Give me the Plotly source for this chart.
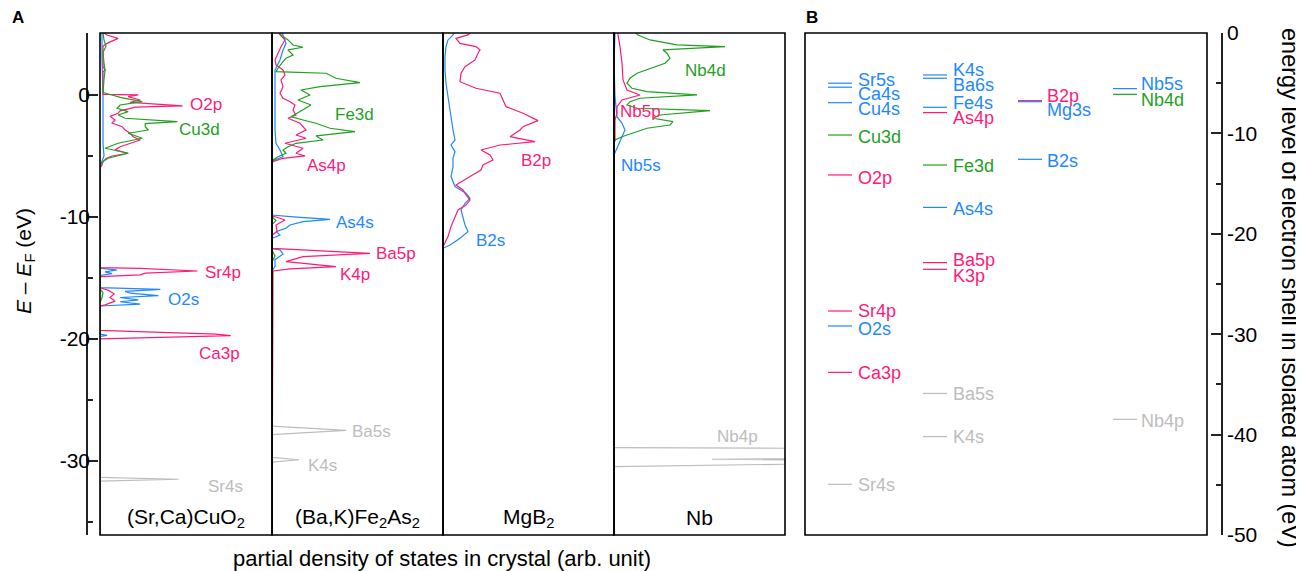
import plotly.graph_objects as go

# ---------------- data ----------------
panel_names = ["(Sr,Ca)CuO<sub>2</sub>", "(Ba,K)Fe<sub>2</sub>As<sub>2</sub>", "MgB<sub>2</sub>", "Nb"]

# Panel A: energy E-E_F (eV) and partial DOS (arb. unit) for each curve
# (Sr,Ca)CuO2
sc_p_E = [5.08, 4.92, 4.64, 4.23, 4.0, 2.3, 2.05, 1.9, 0.05, 0.0,
          -0.14, -0.41, -0.6, -0.9, -1.0, -1.09, -1.3, -1.5, -1.75, -2.05,
          -2.3, -2.6, -2.87, -3.14, -3.42, -3.69, -3.96, -4.24, -4.5, -4.78,
          -5.0, -5.2, -5.46, -5.74, -6.0,
          -14.15, -14.21, -14.43, -14.6, -14.75, -14.89,
          -15.8, -16.0, -16.3, -16.6, -16.9, -17.2, -17.3,
          -19.3, -19.6, -19.73, -19.85, -20.0, -36.1]
sc_p = [4, 7, 18, 7, 3, 3, 5, 3, 3, 38,
        28, 40, 30, 82, 35, 30, 20, 18, 10, 15,
        12, 22, 25, 30, 33, 40, 30, 20, 15, 28,
        12, 6, 3, 2, 0,
        0, 40, 97, 45, 40, 0,
        0, 8, 14, 10, 15, 5, 0,
        0, 115, 130, 60, 0, 0]
sc_d_E = [5.08, 4.5, 4.0, 3.5, 2.6, 2.0, 1.3, 0.2, 0.0, -0.2,
          -0.55, -0.82, -1.09, -1.37, -1.64, -1.91, -2.19, -2.35, -2.6, -2.87,
          -3.14, -3.55, -3.96, -4.37, -4.78, -5.19, -5.46, -5.8,
          -15.9, -16.2, -16.6, -17.0, -36.1]
sc_d = [3, 4, 6, 3, 4, 5, 4, 3, 12, 20,
        42, 20, 17, 28, 18, 25, 77, 45, 45, 48,
        28, 42, 18, 5, 28, 8, 3, 0,
        0, 3, 2, 0, 0]
sc_s_E = [5.08, 3.0, 0.0, -2.0, -4.0, -5.0, -5.8,
          -14.2, -14.35, -14.5, -14.65, -14.8,
          -15.8, -15.93, -16.1, -16.25, -16.45, -16.6, -16.8, -16.95, -17.15, -17.3,
          -19.6, -19.7, -19.8, -36.1]
sc_s = [2, 2, 3, 3, 3, 4, 0,
        0, 17, 5, 12, 0,
        0, 60, 25, 30, 58, 20, 38, 20, 40, 0,
        0, 7, 0, 0]
sc_core_E = [-31.35, -31.5, -31.65]
sc_core = [0, 78, 0]

# (Ba,K)Fe2As2
bk_d_E = [5.08, 4.92, 4.51, 4.10, 3.91, 3.69, 3.28, 3.01, 2.73, 2.46,
          2.19, 1.91, 1.78, 1.37, 1.01, 0.68, 0.41, 0.0, -0.41, -0.82,
          -1.23, -1.78, -2.05, -2.32, -2.73, -3.01, -3.36, -3.69, -3.96, -4.24,
          -4.51, -4.78, -5.06, -5.33, -5.5,
          -10.0, -10.3, -10.6, -12.7, -13.2, -13.7, -36.1]
bk_d = [8, 9, 16, 21, 31, 16, 21, 14, 11, 8,
        6, 4, 54, 64, 88, 48, 29, 38, 26, 39,
        31, 19, 31, 44, 58, 83, 44, 51, 24, 16,
        11, 14, 6, 1, 0,
        0, 4, 0, 0, 3, 0, 0]
bk_p_E = [5.08, 4.92, 4.51, 3.96, 3.42, 2.87, 2.46, 2.05, 1.64, 1.23,
          0.68, 0.14, -0.27, -0.55, -0.82, -1.23, -1.64, -1.91, -2.32, -2.87,
          -3.28, -3.55, -3.96, -4.37, -4.78, -5.0, -5.19, -5.46, -5.6,
          -9.9, -10.0, -10.25, -10.66, -11.2, -11.5,
          -12.57, -12.7, -12.98, -13.25, -13.66, -14.07, -14.26, -14.43, -36.1]
bk_p = [7, 8, 13, 9, 6, 3, 4, 11, 13, 9,
        11, 8, 11, 18, 23, 21, 24, 16, 28, 34,
        24, 34, 13, 31, 24, 33, 11, 1, 0,
        0, 4, 13, 4, 5, 0,
        0, 30, 98, 31, 14, 64, 18, 1, 0]
bk_s_E = [5.08, 4.92, 4.23, 3.69, 2.87, 2.05, -0.14, -2.87, -3.96, -4.51,
          -5.06, -5.4, -9.84, -9.97, -10.19, -10.38, -10.66, -10.93, -11.2, -11.48,
          -11.75, -12.6, -12.7, -13.05, -13.5, -14.07, -14.4, -36.1]
bk_s = [10, 11, 14, 11, 8, 3, 3, 3, 4, 8,
        11, 0, 0, 18, 58, 31, 18, 14, 4, 8,
        0, 0, 8, 11, 3, 3, 0, 0]
bk_core_E = [-27.15, -27.5, -27.85, -29.7, -29.9, -30.1]
bk_core = [0, 74, 0, 0, 27, 0]

# MgB2
mg_p_E = [5.08, 4.92, 4.64, 4.23, 3.96, 3.69, 3.42, 2.87, 2.32, 1.78,
          1.09, 0.55, 0.14, -0.41, -0.96, -1.5, -1.78, -2.10, -2.6, -2.87,
          -3.42, -3.83, -4.10, -4.51, -4.92, -5.33, -5.74, -6.15, -6.69, -7.38,
          -7.79, -8.2, -8.61, -9.02, -9.43, -9.97, -10.79, -11.61, -12.43, -12.6,
          -36.1]
mg_p = [27, 25, 13, 17, 33, 37, 35, 32, 22, 18,
        17, 33, 57, 60, 63, 80, 87, 95, 80, 77,
        67, 92, 57, 38, 47, 50, 40, 38, 27, 13,
        20, 23, 27, 23, 15, 12, 8, 5, 0, 0,
        0]
mg_s_E = [5.08, 4.92, 4.51, 3.96, 3.14, 2.05, 0.96, -0.14, -1.5, -2.87,
          -3.69, -4.1, -4.65, -5.19, -5.87, -6.69, -7.51, -8.06, -8.47, -8.88,
          -9.43, -9.97, -10.66, -11.2, -11.75, -12.3, -12.57, -36.1]
mg_s = [11, 10, 5, 3, 2, 2, 3, 5, 7, 10,
        12, 8, 12, 10, 10, 8, 12, 23, 27, 22,
        18, 20, 22, 25, 17, 7, 0, 0]

# Nb
nb_d_E = [5.08, 4.92, 4.51, 4.10, 3.96, 3.69, 3.42, 3.01, 2.6, 2.19,
          1.78, 1.37, 0.96, 0.55, 0.27, 0.0, -0.27, -0.55, -0.82, -1.09,
          -1.28, -1.64, -1.91, -2.19, -2.46, -2.73, -3.14, -3.42, -3.69, -4.1, -36.1]
nb_d = [22, 24, 36, 63, 111, 49, 53, 56, 51, 36,
        23, 16, 13, 18, 33, 83, 26, 16, 13, 23,
        96, 46, 39, 59, 56, 33, 19, 8, 1, 0, 0]
nb_p_E = [5.08, 4.92, 3.96, 2.6, 1.23, 0.41, 0.0, -0.41, -0.96, -1.5, -2.05, -2.87, -3.69, -3.96, -36.1]
nb_p = [4, 4, 6, 8, 9, 13, 26, 8, 3, 3, 1, 1, 1, 0, 0]
nb_s_E = [5.08, 2.6, -0.14, -1.78, -2.32, -2.87, -3.42, -4.1, -4.92, -36.1]
nb_s = [1, 0, 1, 3, 8, 11, 8, 4, 0, 0]
nb_core_E = [-28.9, -28.96, -29.2, -29.75, -29.86, -29.95, -30.1, -30.27, -30.46]
nb_core = [0, 171, 420, 300, 98, 300, 420, 171, 0]

# Panel B: energy levels of isolated atoms (eV)
level_names = ["Sr5s", "Ca4s", "Cu4s", "Cu3d", "O2p", "Sr4p", "O2s", "Ca3p", "Sr4s",
               "K4s", "Ba6s", "Fe4s", "As4p", "Fe3d", "As4s", "Ba5p", "K3p", "Ba5s", "K4s",
               "B2p", "Mg3s", "B2s",
               "Nb5s", "Nb4d", "Nb4p"]
level_E = [-5.0, -5.4, -6.94, -10.16, -14.14, -27.69, -29.18, -33.8, -44.95,
           -4.18, -4.51, -7.40, -7.93, -13.15, -17.37, -22.87, -23.54, -35.9, -40.2,
           -6.74, -6.84, -12.58,
           -5.54, -6.11, -38.48]
level_col = [0, 0, 0, 0, 0, 0, 0, 0, 0,
             1, 1, 1, 1, 1, 1, 1, 1, 1, 1,
             2, 2, 2,
             3, 3, 3]
level_kind = ["s", "s", "s", "d", "p", "p", "s", "p", "c",
              "s", "s", "s", "p", "d", "s", "p", "p", "c", "c",
              "p", "s", "s",
              "s", "d", "c"]

# ---------------- styling ----------------
OFF = 8                      # default page (body) margin of the html page
W, H = 1296, 563
PINK, GREEN, BLUE, GRAY = "#FF1A78", "#1FA01F", "#1E88FF", "#BDBDBD"
KIND_COLOR = {"p": PINK, "d": GREEN, "s": BLUE, "c": GRAY}
FONT = "Liberation Sans, Arial, sans-serif"


def px(x):
    return (x - OFF) / W


def py(y):
    return 1 - (y - OFF) / H


Y_TOP, Y_BOT = 33, 535
A_EDGES = [100, 272, 443, 614, 785]
B_LEFT, B_RIGHT = 805, 1207
E_RANGE = [-36.07, 5.08]
AX = "#222"

fig = go.Figure()

curves = [
    [(sc_s_E, sc_s, BLUE), (sc_p_E, sc_p, PINK), (sc_d_E, sc_d, GREEN), (sc_core_E, sc_core, GRAY)],
    [(bk_s_E, bk_s, BLUE), (bk_p_E, bk_p, PINK), (bk_d_E, bk_d, GREEN), (bk_core_E, bk_core, GRAY)],
    [(mg_s_E, mg_s, BLUE), (mg_p_E, mg_p, PINK)],
    [(nb_s_E, nb_s, BLUE), (nb_p_E, nb_p, PINK), (nb_d_E, nb_d, GREEN), (nb_core_E, nb_core, GRAY)],
]
for i, group in enumerate(curves):
    xa = "x" if i == 0 else f"x{i+1}"
    for E, d, c in group:
        fig.add_trace(go.Scatter(x=d, y=E, mode="lines", xaxis=xa, yaxis="y",
                                 line=dict(color=c, width=1.2), hoverinfo="skip",
                                 showlegend=False))

# panel B level lines
col_x0 = [23, 118, 213, 308]
seg_len = 24
for kind, c in KIND_COLOR.items():
    xs, ys = [], []
    for E, col, k in zip(level_E, level_col, level_kind):
        if k == kind:
            xs += [col_x0[col], col_x0[col] + seg_len, None]
            ys += [E, E, None]
    fig.add_trace(go.Scatter(x=xs, y=ys, mode="lines", xaxis="x5", yaxis="y2",
                             line=dict(color=c, width=1.2), hoverinfo="skip",
                             showlegend=False))

layout = dict(
    width=W, height=H, margin=dict(l=0, r=0, t=0, b=0, autoexpand=False),
    plot_bgcolor="white", paper_bgcolor="white",
    font=dict(family=FONT, size=17, color="black"),
    showlegend=False,
)
for i in range(4):
    key = "xaxis" if i == 0 else f"xaxis{i+1}"
    layout[key] = dict(domain=[px(A_EDGES[i]), px(A_EDGES[i + 1])], range=[0, 171],
                       anchor="y", visible=False, automargin=False)
layout["xaxis5"] = dict(domain=[px(B_LEFT), px(B_RIGHT)], range=[0, 402],
                        anchor="y2", visible=False, automargin=False)
layout["yaxis"] = dict(domain=[py(Y_BOT), py(Y_TOP)], range=E_RANGE, anchor="free",
                       position=px(87), showline=True, linecolor=AX, linewidth=1.5,
                       ticks="inside", ticklen=10, tickwidth=1.5, tickcolor=AX,
                       tickvals=[0, -10, -20, -30], ticktext=["0", "-10", "-20", "-30"],
                       minor=dict(tickvals=[5, -5, -15, -25, -35], ticks="inside",
                                  ticklen=5, tickwidth=1.5, tickcolor=AX, showgrid=False),
                       showgrid=False, zeroline=False, tickfont=dict(size=21),
                       automargin=False, ticklabelstandoff=-8)
layout["yaxis2"] = dict(domain=[py(Y_BOT), py(Y_TOP)], range=[-50, 0], anchor="free",
                        side="right", position=px(1222), showline=True, linecolor=AX,
                        linewidth=1.5, ticks="inside", ticklen=10, tickwidth=1.5,
                        tickcolor=AX,
                        tickvals=[0, -10, -20, -30, -40, -50],
                        ticktext=["0", "-10", "-20", "-30", "-40", "-50"],
                        minor=dict(tickvals=[-5, -15, -25, -35, -45], ticks="inside",
                                   ticklen=5, tickwidth=1.5, tickcolor=AX, showgrid=False),
                        showgrid=False, zeroline=False, tickfont=dict(size=21),
                        automargin=False)
fig.update_layout(**layout)

shapes = []
for i in range(4):
    shapes.append(dict(type="rect", xref="paper", yref="paper",
                       x0=px(A_EDGES[i]), x1=px(A_EDGES[i + 1]), y0=py(Y_BOT), y1=py(Y_TOP),
                       line=dict(color="black", width=1.6), layer="above"))
shapes.append(dict(type="rect", xref="paper", yref="paper",
                   x0=px(B_LEFT), x1=px(B_RIGHT), y0=py(Y_BOT), y1=py(Y_TOP),
                   line=dict(color="black", width=1.6), layer="above"))
fig.update_layout(shapes=shapes)

ann = []
# curve labels in panel A: (text, panel, x, y, color)
a_labels = [("O2p", 0, 105, -0.74, PINK), ("Cu3d", 0, 99, -2.87, GREEN),
            ("Sr4p", 0, 122, -14.59, PINK), ("O2s", 0, 83, -16.8, BLUE),
            ("Ca3p", 0, 119, -21.2, PINK), ("Sr4s", 0, 125, -32.1, GRAY),
            ("Fe3d", 1, 82, -1.56, GREEN), ("As4p", 1, 54, -5.82, PINK),
            ("As4s", 1, 83, -10.49, BLUE), ("Ba5p", 1, 124, -13.03, PINK),
            ("K4p", 1, 83, -14.75, PINK), ("Ba5s", 1, 99, -27.6, GRAY),
            ("K4s", 1, 50, -30.4, GRAY),
            ("B2p", 2, 93, -5.41, PINK), ("B2s", 2, 47, -11.89, BLUE),
            ("Nb4d", 3, 91, 2.0, GREEN), ("Nb5p", 3, 26, -1.39, PINK),
            ("Nb5s", 3, 27, -5.82, BLUE), ("Nb4p", 3, 123, -28.03, GRAY)]
for t, i, x, y, c in a_labels:
    ann.append(dict(text=t, x=x, y=y, xref="x" if i == 0 else f"x{i+1}", yref="y",
                    xanchor="center", yanchor="middle",
                    showarrow=False, font=dict(size=17, color=c)))
for i, name in enumerate(panel_names):
    ann.append(dict(text=name, x=85.5, y=-34.67, xref="x" if i == 0 else f"x{i+1}",
                    yref="y", xanchor="center", yanchor="middle",
                    showarrow=False, font=dict(size=21, color="black")))

# panel B labels with small vertical offsets to avoid overlap (px)
b_shift = [3, -7, -6, -2, -3, 0, -3, -1, -1,
           5, -7, 4, -5, -1, -2, 3, -7, -1, 0,
           5, -8, -2,
           5, -6, -2]
label_x = [51, 146, 240, 334]
for name, E, col, k, s in zip(level_names, level_E, level_col, level_kind, b_shift):
    ann.append(dict(text=name, x=label_x[col], y=E, xref="x5", yref="y2", xanchor="left",
                    yanchor="middle", yshift=s, showarrow=False,
                    font=dict(size=18, color=KIND_COLOR[k])))

paper_text = [
    ("<i>E</i> – <i>E</i><sub>F</sub> (eV)", 25, 261, -90, 21),
    ("partial density of states in crystal (arb. unit)", 442, 558, 0, 22),
    ("energy level of electron shell in isolated atom (eV)", 1290, 288, 90, 23.5),
    ("<b>A</b>", 18, 17, 0, 17),
    ("<b>B</b>", 812, 18, 0, 17),
]
for t, x, y, ang, sz in paper_text:
    ann.append(dict(text=t, x=px(x), y=py(y), xref="paper", yref="paper", textangle=ang,
                    xanchor="center", yanchor="middle", showarrow=False,
                    font=dict(size=sz, color="black")))
fig.update_layout(annotations=ann)

fig.write_html("out.html")
